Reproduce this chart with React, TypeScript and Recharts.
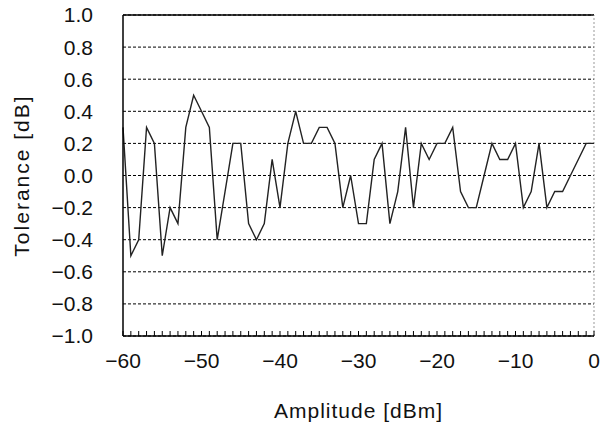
import React from 'react';
import { LineChart, Line, XAxis, YAxis, CartesianGrid, ReferenceLine } from 'recharts';

const amplitude = [
  -60, -59, -58, -57, -56, -55, -54, -53, -52, -51,
  -50, -49, -48, -47, -46, -45, -44, -43, -42, -41,
  -40, -39, -38, -37, -36, -35, -34, -33, -32, -31,
  -30, -29, -28, -27, -26, -25, -24, -23, -22, -21,
  -20, -19, -18, -17, -16, -15, -14, -13, -12, -11,
  -10, -9, -8, -7, -6, -5, -4, -3, -2, -1, 0,
];

const tolerance = [
  0.3, -0.5, -0.4, 0.3, 0.2, -0.5, -0.2, -0.3, 0.3, 0.5,
  0.4, 0.3, -0.4, -0.1, 0.2, 0.2, -0.3, -0.4, -0.3, 0.1,
  -0.2, 0.2, 0.4, 0.2, 0.2, 0.3, 0.3, 0.2, -0.2, 0.0,
  -0.3, -0.3, 0.1, 0.2, -0.3, -0.1, 0.3, -0.2, 0.2, 0.1,
  0.2, 0.2, 0.3, -0.1, -0.2, -0.2, 0.0, 0.2, 0.1, 0.1,
  0.2, -0.2, -0.1, 0.2, -0.2, -0.1, -0.1, 0.0, 0.1, 0.2, 0.2,
];

const xLabelTicks = [-60, -50, -40, -30, -20, -10, 0];
const yTicks = [-1.0, -0.8, -0.6, -0.4, -0.2, 0.0, 0.2, 0.4, 0.6, 0.8, 1.0];

const data = amplitude.map((a, i) => ({ amp: a, tol: tolerance[i] }));

const fmtY = (v: number) => (v < 0 ? '\u2212' + Math.abs(v).toFixed(1) : Math.abs(v).toFixed(1));
const fmtX = (v: number) =>
  xLabelTicks.includes(v) ? (v < 0 ? '\u2212' + Math.abs(v) : String(v)) : '';

const font = '"Liberation Sans", Arial, sans-serif';

export default function App() {
  return (
    <div style={{ position: 'absolute', left: 0, top: 0, background: '#fff' }}>
      <LineChart width={601} height={423} data={data} margin={{ top: 15, right: 7, left: 0, bottom: 0 }}>
        <CartesianGrid horizontal vertical={false} stroke="#000" strokeDasharray="3 2" strokeWidth={1} />
        <XAxis
          dataKey="amp"
          type="number"
          domain={[-60, 0]}
          ticks={amplitude}
          interval={0}
          tickFormatter={fmtX}
          height={87}
          tickLine={{ stroke: '#000', strokeWidth: 1 }}
          tickSize={-5}
          tickMargin={22}
          axisLine={{ stroke: '#000', strokeWidth: 1.5 }}
          tick={{ fontFamily: font, fontSize: 21, fill: '#111' }}
          label={{
            value: 'Amplitude [dBm]',
            position: 'insideBottom',
            offset: 5,
            style: { fontFamily: font, fontSize: 21, fill: '#111', letterSpacing: 1 },
          }}
        />
        <YAxis
          type="number"
          domain={[-1, 1]}
          ticks={yTicks}
          tickFormatter={fmtY}
          width={123}
          tickLine={false}
          tickSize={0}
          tickMargin={30}
          axisLine={{ stroke: '#000', strokeWidth: 1.5 }}
          tick={{ fontFamily: font, fontSize: 21, fill: '#111' }}
          label={{
            value: 'Tolerance [dB]',
            angle: -90,
            position: 'insideLeft',
            offset: 22,
            style: { fontFamily: font, fontSize: 21, fill: '#111', textAnchor: 'middle', letterSpacing: 2 },
          }}
        />
        <ReferenceLine y={1} stroke="#000" strokeWidth={1.5} />
        <ReferenceLine x={0} stroke="#999" strokeDasharray="2 2" strokeWidth={1} />
        <Line
          type="linear"
          dataKey="tol"
          stroke="#222"
          strokeWidth={1.4}
          dot={false}
          isAnimationActive={false}
        />
      </LineChart>
    </div>
  );
}
